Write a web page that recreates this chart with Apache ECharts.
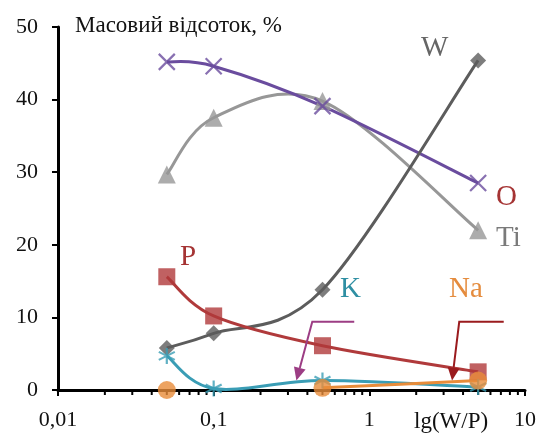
<!DOCTYPE html>
<html>
<head>
<meta charset="utf-8">
<script src="https://cdn.jsdelivr.net/npm/echarts@6/dist/echarts.min.js"></script>
<style>
  html, body { margin: 0; padding: 0; background: #fff; }
  #chart { width: 540px; height: 437px; }
</style>
</head>
<body>
<div id="chart"></div>
<script>
// W/P ratio (log scale) at which each composition was measured
const ratios = [0.05, 0.1, 0.5, 5];

// Element mass fractions, %
const W  = [5.8, 7.8, 13.8, 45.4];
const O  = [45.2, 44.6, 39.1, 28.5];
const Ti = [29.7, 37.5, 39.8, 22.0];
const P  = [15.6, 10.2, 6.1, 2.5];
const K  = [4.7, 0.2, 1.3, 0.4];
const Na = [0.0, null, 0.3, 1.3];

// Axis settings and labels
const yTicks = [0, 10, 20, 30, 40, 50];
const xDecades = [0.01, 0.1, 1, 10];
const yTitle = 'Масовий відсоток, %';
const xTitle = 'lg(W/P)';

// Callout arrows (data space): horizontal run then a drop onto the curves
const arrowK  = [[0.80, 9.4], [0.43, 9.4], [0.34, 1.3]];
const arrowNa = [[7.3, 9.4], [3.78, 9.4], [3.4, 1.3]];

const SERIF = '"Liberation Serif", "DejaVu Serif", serif';

function pairs(vals) {
  return ratios.map((r, i) => [r, vals[i]]);
}

// minor tick positions 2..9 within each decade
const minorTicks = [];
for (let d = 0; d < xDecades.length - 1; d++) {
  for (let m = 2; m <= 9; m++) minorTicks.push(+(xDecades[d] * m).toPrecision(3));
}

const xMark = 'path://M0,0 L10,10 M10,0 L0,10';
const starMark = 'path://M5,0 L5,10 M0.7,2.5 L9.3,7.5 M9.3,2.5 L0.7,7.5';

// Smoothed curve through the points (Catmull-Rom in screen space),
// broken wherever a value is missing.
function curveSeries(vals, color) {
  return {
    type: 'custom',
    coordinateSystem: 'cartesian2d',
    data: [0],
    silent: true,
    animation: false,
    renderItem: function (params, api) {
      const runs = [];
      let cur = [];
      vals.forEach((v, i) => {
        if (v == null) { if (cur.length) runs.push(cur); cur = []; }
        else cur.push(api.coord([ratios[i], v]));
      });
      if (cur.length) runs.push(cur);
      const children = runs.filter(r => r.length > 1).map(pts => {
        let d = 'M' + pts[0][0] + ',' + pts[0][1];
        for (let i = 0; i < pts.length - 1; i++) {
          const p0 = pts[Math.max(i - 1, 0)], p1 = pts[i], p2 = pts[i + 1], p3 = pts[Math.min(i + 2, pts.length - 1)];
          const c1 = [p1[0] + (p2[0] - p0[0]) / 6, p1[1] + (p2[1] - p0[1]) / 6];
          const c2 = [p2[0] - (p3[0] - p1[0]) / 6, p2[1] - (p3[1] - p1[1]) / 6];
          d += ' C' + c1[0] + ',' + c1[1] + ' ' + c2[0] + ',' + c2[1] + ' ' + p2[0] + ',' + p2[1];
        }
        return { type: 'path', shape: { pathData: d }, style: { stroke: color, lineWidth: 3, fill: null, lineJoin: 'round' } };
      });
      return { type: 'group', children: children };
    }
  };
}

function markerSeries(name, vals, color, symbol, size, stroked) {
  return {
    name: name,
    type: 'scatter',
    data: pairs(vals).filter(p => p[1] != null),
    symbol: symbol,
    symbolSize: size,
    itemStyle: stroked ? { color: 'none', borderColor: color, borderWidth: 2.2 } : { color: color },
    emphasis: { disabled: true },
    silent: true,
    animation: false
  };
}

function element(name, vals, color, symbol, size, stroked) {
  return [curveSeries(vals, color), markerSeries(name, vals, color, symbol, size, stroked)];
}

function arrowSeries(path, color) {
  return {
    type: 'custom',
    coordinateSystem: 'cartesian2d',
    data: [0],
    silent: true,
    animation: false,
    z: 5,
    renderItem: function (params, api) {
      const pts = path.map(p => api.coord(p));
      const a = pts[pts.length - 2], b = pts[pts.length - 1];
      const ang = Math.atan2(b[1] - a[1], b[0] - a[0]);
      const L = 13, W2 = 6;
      const base = [b[0] - L * Math.cos(ang), b[1] - L * Math.sin(ang)];
      const left = [base[0] + W2 * Math.sin(ang), base[1] - W2 * Math.cos(ang)];
      const right = [base[0] - W2 * Math.sin(ang), base[1] + W2 * Math.cos(ang)];
      const line = pts.slice(0, -1).concat([base]);
      return {
        type: 'group',
        children: [
          { type: 'polyline', shape: { points: line }, style: { stroke: color, lineWidth: 2, fill: null } },
          { type: 'polygon', shape: { points: [b, left, right] }, style: { fill: color } }
        ]
      };
    }
  };
}

const chart = echarts.init(document.getElementById('chart'), null, { renderer: 'canvas' });

chart.setOption({
  backgroundColor: '#ffffff',
  animation: false,
  grid: { left: 58, right: 15, top: 27, bottom: 47, containLabel: false },
  xAxis: {
    type: 'log',
    logBase: 10,
    min: 0.01,
    max: 10,
    axisLine: { show: true, lineStyle: { color: '#000', width: 3 } },
    axisTick: { show: true, inside: false, length: 6, lineStyle: { color: '#000', width: 2 } },
    splitLine: { show: false },
    minorTick: { show: false },
    axisLabel: {
      margin: 19,
      fontFamily: SERIF,
      fontSize: 22,
      color: '#111',
      formatter: v => String(+v.toPrecision(3)).replace('.', ',')
    }
  },
  yAxis: {
    type: 'value',
    min: yTicks[0],
    max: yTicks[yTicks.length - 1],
    interval: 10,
    axisLine: { show: true, lineStyle: { color: '#000', width: 3 } },
    axisTick: { show: true, inside: false, length: 6, lineStyle: { color: '#000', width: 2 } },
    splitLine: { show: false },
    axisLabel: { margin: 20, fontFamily: SERIF, fontSize: 22, color: '#111' }
  },
  graphic: [
    { type: 'text', left: 75, top: 14, style: { text: yTitle, font: '23px ' + SERIF, fill: '#111' } },
    { type: 'text', left: 414, top: 410, style: { text: xTitle, font: '23px ' + SERIF, fill: '#111' } },
    { type: 'text', left: 421, top: 34, style: { text: 'W',  font: '29px ' + SERIF, fill: '#666666' } },
    { type: 'text', left: 496, top: 183, style: { text: 'O',  font: '29px ' + SERIF, fill: '#a53434' } },
    { type: 'text', left: 496, top: 224, style: { text: 'Ti', font: '29px ' + SERIF, fill: '#7a7a7a' } },
    { type: 'text', left: 180, top: 243, style: { text: 'P',  font: '29px ' + SERIF, fill: '#a53434' } },
    { type: 'text', left: 340, top: 275, style: { text: 'K',  font: '29px ' + SERIF, fill: '#2f8fa3' } },
    { type: 'text', left: 449, top: 275, style: { text: 'Na', font: '29px ' + SERIF, fill: '#e58c3e' } }
  ],
  series: [
    {
      type: 'custom',
      coordinateSystem: 'cartesian2d',
      data: minorTicks.map(v => [v, 0]),
      silent: true,
      animation: false,
      renderItem: function (params, api) {
        const p = api.coord([api.value(0), 0]);
        return { type: 'line', shape: { x1: p[0], y1: p[1], x2: p[0], y2: p[1] + 5 }, style: { stroke: '#000', lineWidth: 2 } };
      }
    }
  ].concat(
    element('Ti', Ti, '#979797', 'triangle', 18, false),
    element('O', O, '#6a4c9e', xMark, 16, true),
    element('W', W, '#5c5c5c', 'diamond', 16, false),
    element('P', P, '#b03a3b', 'rect', 17, false),
    element('K', K, '#3a9db5', starMark, 16, true),
    element('Na', Na, '#e88c3a', 'circle', 18, false),
    [arrowSeries(arrowK, '#9c3d84'), arrowSeries(arrowNa, '#9a1b1e')]
  )
});
</script>
</body>
</html>
